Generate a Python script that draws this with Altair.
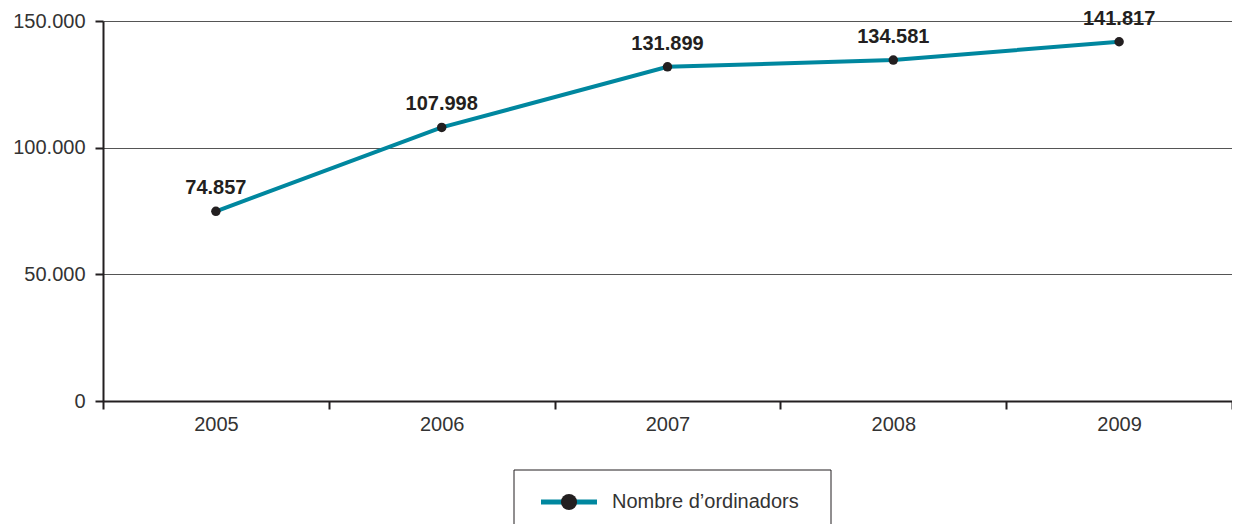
import altair as alt
import pandas as pd

years = ["2005", "2006", "2007", "2008", "2009"]
values = [74857, 107998, 131899, 134581, 141817]
series_name = "Nombre d\u2019ordinadors"
y_ticks = [0, 50000, 100000, 150000]

df = pd.DataFrame({"year": years, "value": values})
legend_df = pd.DataFrame({"name": [series_name]})

W, H = 1129, 380
LINE_COLOR = "#00879f"
DARK = "#231f20"
FONT = "Liberation Sans"
FMT = "replace(format(datum.value, ','), ',', '.')"

x = alt.X(
    "year:O",
    bandPosition=0.5,
    scale=alt.Scale(type="band", paddingInner=0, paddingOuter=0),
    axis=alt.Axis(
        title=None, labelAngle=0, tickBand="extent",
        domainColor=DARK, domainWidth=2, tickColor=DARK, tickWidth=2, tickSize=8,
        labelFontSize=20, labelColor="#333333", labelPadding=5, grid=False,
        labelFont=FONT,
    ),
)
y = alt.Y(
    "value:Q",
    scale=alt.Scale(domain=[0, 150000]),
    axis=alt.Axis(
        title=None, values=y_ticks, labelExpr=FMT,
        grid=True, gridColor="#555555", gridWidth=1,
        domainColor=DARK, domainWidth=2, tickColor=DARK, tickWidth=2, tickSize=8,
        labelFontSize=20, labelColor="#333333", labelPadding=10, labelFont=FONT,
    ),
)

base = alt.Chart(df).encode(x=x, y=y)
line = base.mark_line(color=LINE_COLOR, strokeWidth=4)
pts = base.mark_circle(color=DARK, size=90, opacity=1)
labels = base.transform_calculate(label=FMT).mark_text(
    fontWeight="bold", fontSize=20, dy=-23, color=DARK, font=FONT
).encode(text="label:N")

lg = alt.Chart(legend_df)
box = lg.mark_rect(fillOpacity=0, stroke=DARK, strokeWidth=1).encode(
    x=alt.value(411), x2=alt.value(728), y=alt.value(449), y2=alt.value(540)
)
lg_line = lg.mark_rule(color=LINE_COLOR, strokeWidth=5).encode(
    x=alt.value(438), x2=alt.value(494), y=alt.value(481)
)
lg_pt = lg.mark_circle(color=DARK, size=260, opacity=1).encode(
    x=alt.value(466), y=alt.value(481)
)
lg_text = lg.mark_text(align="left", baseline="middle", fontSize=20, color="#333333", font=FONT).encode(
    x=alt.value(509), y=alt.value(481), text="name:N"
)

chart = alt.layer(line, pts, labels, box, lg_line, lg_pt, lg_text).properties(
    width=W, height=H,
    padding={"left": 95, "top": 13, "right": 0, "bottom": 123},
    autosize=alt.AutoSizeParams(type="none"),
).configure_view(stroke=None).configure(font=FONT)

chart.save("out.html", embed_options={"renderer": "svg", "actions": False})
